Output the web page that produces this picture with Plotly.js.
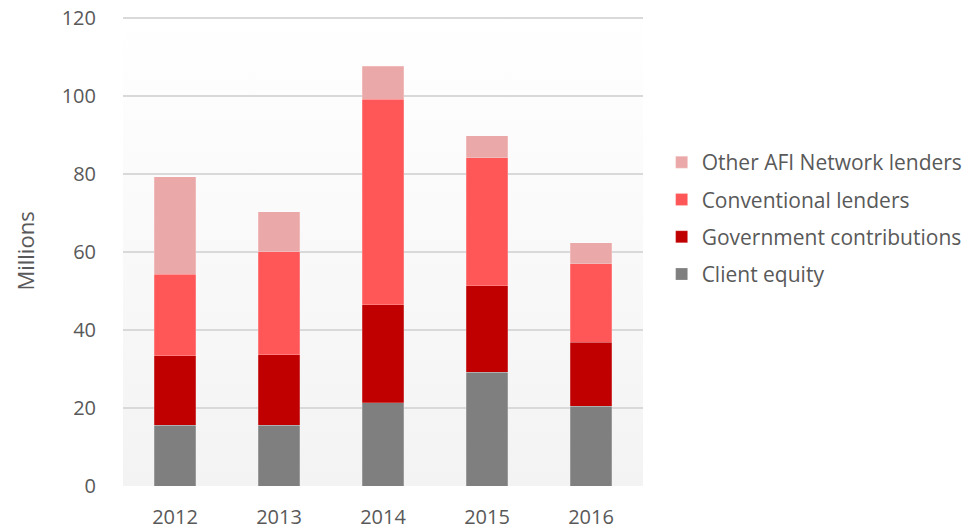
<!DOCTYPE html>
<html>
<head>
<meta charset="utf-8">
<script src="https://cdn.plot.ly/plotly-3.0.1.min.js"></script>
<style>html,body{margin:0;padding:0;background:#fff;}#chart{width:973px;height:529px;}</style>
</head>
<body>
<div id="chart"></div>
<script>
const years = ['2012', '2013', '2014', '2015', '2016'];
const clientEquity = [15.6, 15.6, 21.3, 29.2, 20.5];
const governmentContributions = [17.8, 18.0, 25.2, 22.2, 16.4];
const conventionalLenders = [20.9, 26.5, 52.6, 32.8, 20.1];
const otherAfiLenders = [25.0, 10.2, 8.5, 5.6, 5.4];
const yTicks = [0, 20, 40, 60, 80, 100, 120];

const seriesNames = ['Client equity', 'Government contributions', 'Conventional lenders', 'Other AFI Network lenders'];
const seriesValues = [clientEquity, governmentContributions, conventionalLenders, otherAfiLenders];
const seriesColors = ['#7f7f7f', '#c00000', '#ff5757', '#eba8a8'];

const traces = seriesNames.map((name, i) => ({
  type: 'bar',
  name: name,
  legendgroup: 'g' + i,
  legendrank: 1000 - i,
  x: years,
  y: seriesValues[i],
  marker: {color: seriesColors[i], line: {color: 'rgba(255,255,255,0.35)', width: 0.6}},
  hoverinfo: 'x+y+name'
}));

const grad = '<svg xmlns="http://www.w3.org/2000/svg" width="10" height="100" preserveAspectRatio="none"><defs><linearGradient id="g" x1="0" y1="0" x2="0" y2="1"><stop offset="0" stop-color="#ffffff"/><stop offset="1" stop-color="#f3f3f3"/></linearGradient></defs><rect width="10" height="100" fill="url(#g)"/></svg>';

const font = "'Open Sans', 'Liberation Sans', sans-serif";

const layout = {
  width: 973,
  height: 529,
  margin: {l: 123, r: 330, t: 16, b: 43},
  paper_bgcolor: '#ffffff',
  plot_bgcolor: 'rgba(0,0,0,0)',
  barmode: 'stack',
  bargap: 0.6,
  font: {family: font, size: 20, color: '#595959'},
  images: [{
    source: 'data:image/svg+xml;charset=utf-8,' + encodeURIComponent(grad),
    xref: 'paper', yref: 'paper', x: 0, y: 1, sizex: 1, sizey: 1,
    xanchor: 'left', yanchor: 'top', sizing: 'stretch', layer: 'below'
  }],
  xaxis: {
    type: 'category',
    showgrid: false,
    zeroline: false,
    showline: false,
    ticks: '',
    ticklabelstandoff: 17,
    tickfont: {family: font, size: 20, color: '#595959'},
    automargin: false
  },
  yaxis: {
    range: [0, 120.5],
    tickvals: yTicks,
    showgrid: true,
    gridcolor: '#d9d9d9',
    gridwidth: 1.5,
    zeroline: false,
    showline: false,
    ticks: '',
    ticklabelstandoff: 26,
    tickfont: {family: font, size: 20, color: '#595959'},
    title: {text: 'Millions', font: {family: font, size: 22, color: '#595959'}, standoff: 20},
    automargin: false
  },
  legend: {
    xref: 'container', yref: 'container',
    x: 0.68, xanchor: 'left',
    y: 0.587, yanchor: 'middle',
    traceorder: 'grouped',
    font: {family: font, size: 21, color: '#595959'},
    itemwidth: 30,
    tracegroupgap: 7,
    bgcolor: 'rgba(0,0,0,0)'
  },
  showlegend: true
};

Plotly.newPlot('chart', traces, layout, {displayModeBar: false, staticPlot: true});
</script>
</body>
</html>
